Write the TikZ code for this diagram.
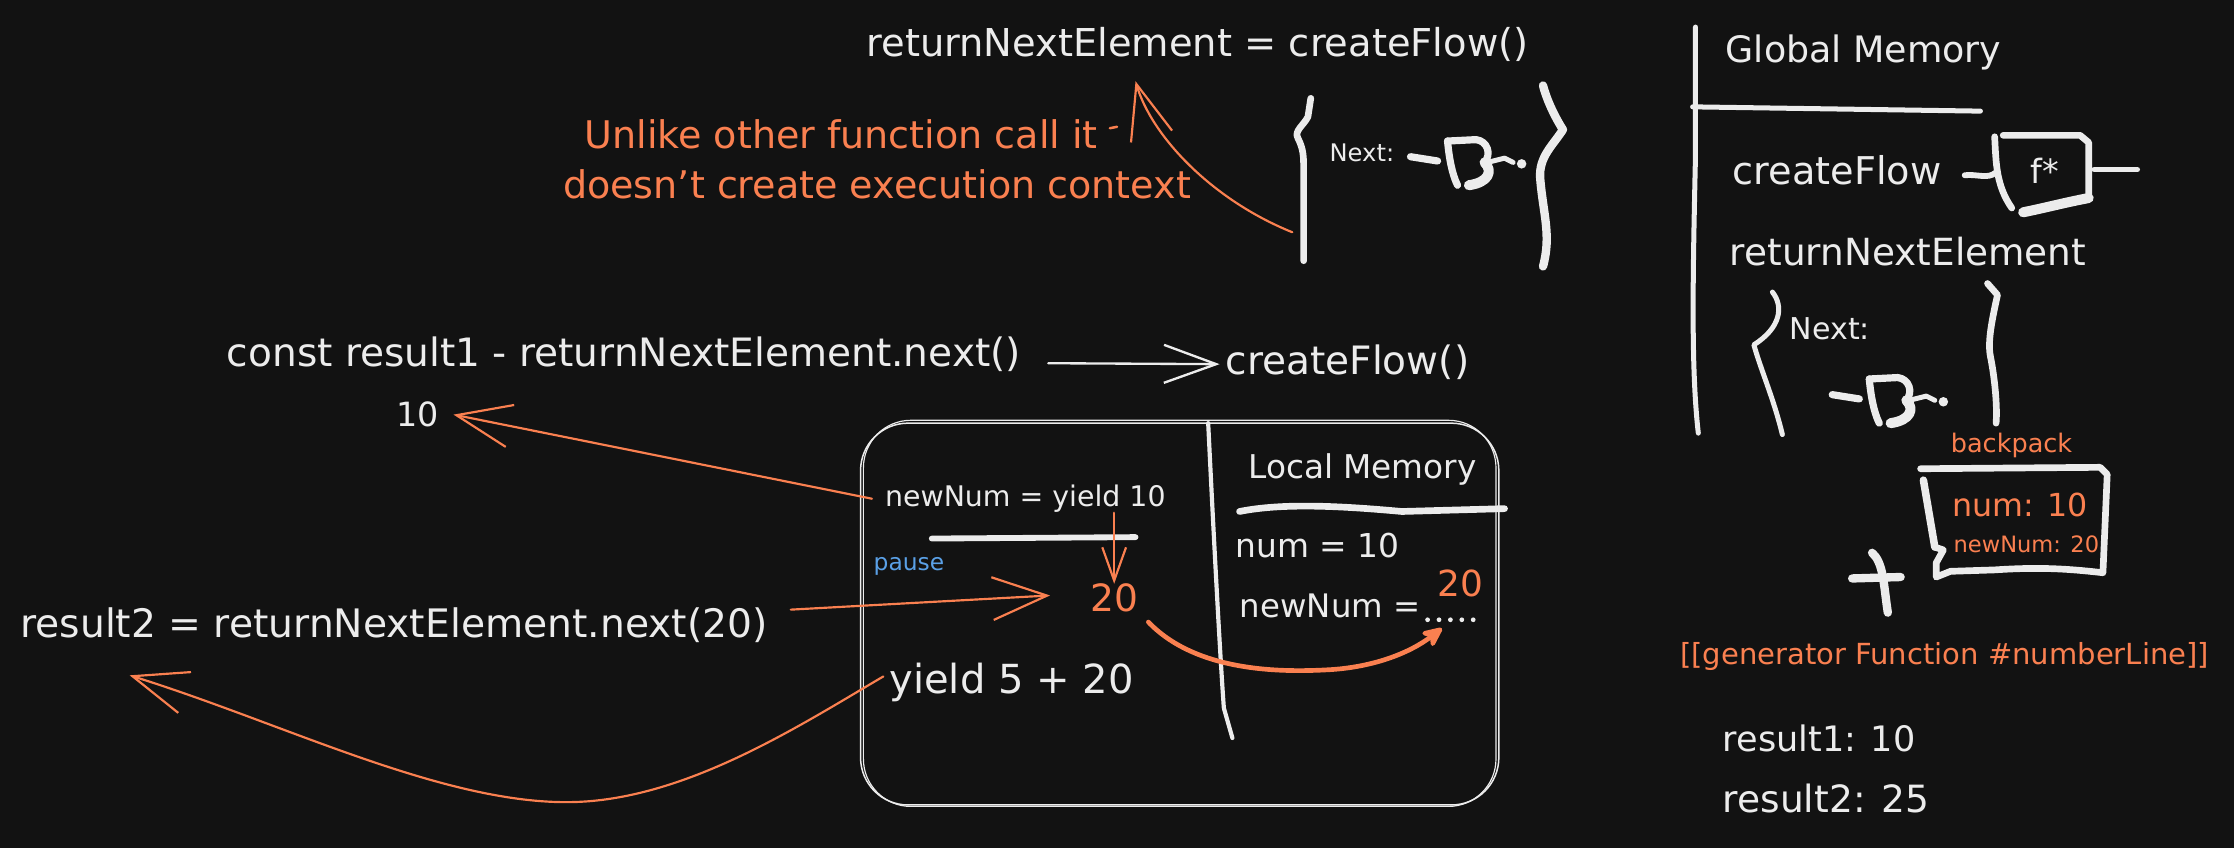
\documentclass[tikz,border=0pt]{standalone}
\usepackage{fontspec}
\setmainfont{DejaVu Sans}
\usetikzlibrary{arrows.meta}
\definecolor{bg}{RGB}{18,18,18}
\definecolor{wc}{RGB}{236,236,236}
\definecolor{oc}{RGB}{250,128,80}
\definecolor{bc}{RGB}{90,160,230}
\tikzset{
  tx/.style={anchor=mid west, inner sep=0pt, text=wc, yshift=-0.1cm},
  ot/.style={tx, text=oc},
  fs/.style={font=\fontsize{#1}{#1}\selectfont},
  wl/.style={draw=wc, line cap=round, line join=round, line width=#1},
  ol/.style={draw=oc, line cap=round, line join=round, line width=#1},
  oarr/.style={ol=1.3pt, -{Straight Barb[length=1.15cm,width=0.9cm]}},
  oarrsmall/.style={ol=1.3pt, -{Straight Barb[length=0.7cm,width=0.5cm]}},
  warr/.style={wl=1.4pt, -{Straight Barb[length=1.1cm,width=0.8cm]}},
  othick/.style={ol=2.8pt, -{Stealth[length=0.55cm,width=0.5cm,round]}},
  dot/.style={fill=wc},
  fnsym/.pic={
    \draw[wl=4.3pt] (0,0) -- (19,3);
    \draw[wl=4.3pt] (26,-11) .. controls (27,0) and (29,12) .. (33,20);
    \draw[wl=4.3pt] (26,-11) -- (46,-12) .. controls (54,-11) and (57,-2) .. (52,4);
    \draw[wl=6pt] (52,4) .. controls (58,10) and (55,18) .. (41,20);
    \draw[wl=3pt] (54,4) -- (66,1) -- (72,4);
    \fill[wc] (78,5) circle (0.1cm);
  }
}
\begin{document}
\begin{tikzpicture}[x=0.03cm, y=-0.03cm]
\useasboundingbox (0,0) rectangle (1568,595);
\fill[bg] (0,0) rectangle (1568,595);

% ---------- top: returnNextElement = createFlow() ----------
\node[tx,fs=23] (rne) at (608,33) {returnNextElement = createFlow()};
\node[ot,fs=22.8] (u1) at (410,98) {Unlike other function call it};
\node[ot,fs=22.8] (u2) at (395,133) {doesn't create execution context};
\draw[ol=1.5pt] (779,90) -- (784,89);
\node[tx,fs=14.5] (nx1) at (933,107) {Next:};
\pic (s1) at (990,110) {fnsym};
\draw[wl=4pt] (920,69) -- (918,82) .. controls (915,88) and (908,92) .. (911,97) .. controls (915,105) and (915,110) .. (915,120) -- (915,183);
\draw[wl=5pt] (1083,60) .. controls (1085,68) and (1090,80) .. (1097,91) .. controls (1090,102) and (1080,110) .. (1081,125) .. controls (1083,150) and (1089,165) .. (1083,187);
\coordinate (a1s) at (907,163);
\coordinate (a1e) at (797,57);
\draw[oarr] (a1s) .. controls (850,140) and (808,95) .. (a1e);

% ---------- Global Memory ----------
\draw[wl=3pt] (1190,19) -- (1190,110) .. controls (1188,200) and (1187,260) .. (1192,304);
\draw[wl=3pt] (1188,75) -- (1390,78);
\node[tx,fs=21.8] (gm) at (1211,37) {Global Memory};
\node[tx,fs=22.9] (cf) at (1216,123) {createFlow};
\draw[wl=3.5pt] (1379,123) .. controls (1388,122) and (1395,126) .. (1401,121);
\draw[wl=4pt] (1400,96) .. controls (1401,115) and (1401,130) .. (1412,146);
\draw[wl=4pt] (1406,95) -- (1460,95) -- (1466,100) -- (1466,139);
\draw[wl=6pt] (1466,139) .. controls (1450,142) and (1435,146) .. (1420,149);
\draw[wl=3.5pt] (1470,119) -- (1500,119);
\node[tx,fs=20] (fstar) at (1425,122) {f*};
\node[tx,fs=22.4] (rne2) at (1214,180) {returnNextElement};
\draw[wl=3pt] (1244,205) .. controls (1252,215) and (1250,230) .. (1231,242) .. controls (1236,260) and (1245,280) .. (1251,305);
\draw[wl=4pt] (1395,199) -- (1402,207) .. controls (1398,225) and (1395,240) .. (1397,250) .. controls (1400,265) and (1402,285) .. (1401,297);
\node[tx,fs=18] (nx2) at (1256,232) {Next:};
\pic (s2) at (1286,277) {fnsym};

% ---------- backpack ----------
\node[ot,fs=15.3] (bp) at (1369,311) {backpack};
\draw[wl=4pt] (1348,329) -- (1474,328) -- (1479,333) -- (1476,402) .. controls (1450,399) and (1430,398) .. (1400,400) -- (1369,401) -- (1359,405) -- (1359,395) -- (1364,386) -- (1358,384);
\draw[wl=4.5pt] (1350,337) -- (1358,384);
\node[ot,fs=19] (bn1) at (1370,356) {num: 10};
\node[ot,fs=13.5] (bn2) at (1371,381) {newNum: 20};
\draw[wl=5pt] (1314,388) .. controls (1322,395) and (1322,410) .. (1325,430);
\draw[wl=5pt] (1300,406) -- (1334,405);
\node[ot,fs=17.4] (gen) at (1179,460) {[[generator Function \#numberLine]]};
\node[tx,fs=21] (r1) at (1209,521) {result1: 10};
\node[tx,fs=22.5] (r2) at (1209,564) {result2: 25};

% ---------- left: calls ----------
\node[tx,fs=23.4] (c1) at (159,251) {const result1 - returnNextElement.next()};
\node[tx,fs=23.4] (cf2) at (860,256) {createFlow()};
\draw[warr] ([shift={(0.57cm,-0.18cm)}]c1.east) -- ([shift={(-0.12cm,-0.05cm)}]cf2.west);
\node[tx,fs=20] (ten) at (278,293) {10};
\node[tx,fs=23.5] (r2c) at (14,441) {result2 = returnNextElement.next(20)};

% ---------- execution context ----------
\draw[wl=0.9pt, rounded corners=1cm] (604,297) rectangle (1052,565);
\draw[wl=0.7pt, rounded corners=1cm] (606,295) rectangle (1050,566);
\draw[wl=2.5pt] (848,297) .. controls (853,400) and (857,470) .. (859,497) -- (865,518);
\node[tx,fs=17] (ny) at (621,349) {newNum = yield 10};
\draw[wl=3.5pt] (654,378) -- (797,377);
\node[tx,fs=14,text=bc] (pause) at (613,394) {pause};
\node[ot,fs=22.5] (tw) at (765,423) {20};
\node[tx,fs=24] (y5) at (624,480) {yield 5 + 20};
\node[tx,fs=19.6] (lm) at (876,329) {Local Memory};
\draw[wl=4pt] (870,359) .. controls (900,353) and (940,355) .. (984,359) -- (1056,357);
\node[tx,fs=19.7] (num) at (867,385) {num = 10};
\node[tx,fs=19.4] (nn) at (870,427) {newNum =};
\foreach \dx in {1002,1010,1018,1026,1034} \fill[dot] (\dx,435) circle (0.05cm);
\node[ot,fs=21.5] (tw2) at (1009,412) {20};
\coordinate (dotsend) at (1012,441);

% ---------- arrows ----------
\draw[oarr] ([xshift=-0.27cm]ny.west) -- ([xshift=0.3cm]ten.east);
\draw[oarr] ([shift={(0.48cm,0.33cm)}]r2c.east) -- ([shift={(-0.84cm,0.06cm)}]tw.west);
\draw[oarrsmall] (tw.north |- ny.south) -- (tw.north);
\coordinate (a4e) at (91,474);
\draw[oarr] ([shift={(-0.12cm,0.12cm)}]y5.west) .. controls (560,510) and (480,562) .. (400,563) .. controls (310,564) and (200,508) .. (a4e);
\draw[othick] ([shift={(0.21cm,-0.5cm)}]tw.east) .. controls (840,472) and (900,472) .. (934,470) .. controls (965,468) and (990,458) .. (dotsend);
\end{tikzpicture}
\end{document}
